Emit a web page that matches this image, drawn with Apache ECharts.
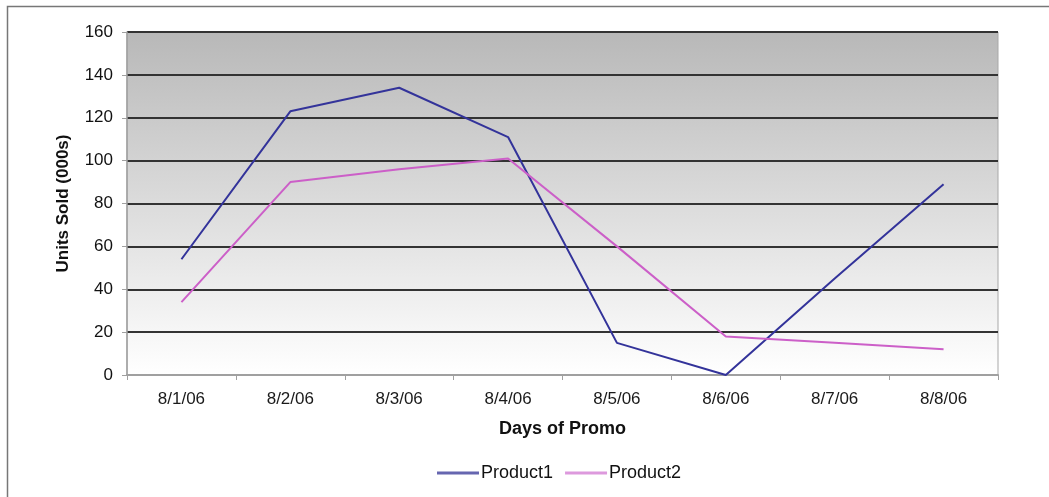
<!DOCTYPE html>
<html>
<head>
<meta charset="utf-8">
<script src="https://cdn.jsdelivr.net/npm/echarts@6/dist/echarts.min.js"></script>
<style>
html,body{margin:0;padding:0;background:#fff;}
#c{width:1049px;height:497px;}
</style>
</head>
<body>
<div id="c"></div>
<script>
var categories = ['8/1/06','8/2/06','8/3/06','8/4/06','8/5/06','8/6/06','8/7/06','8/8/06'];
var product1 = [54, 123, 134, 111, 15, 0, 45, 89];
var product2 = [34, 90, 96, 101, 60, 18, 15, 12];

var chart = echarts.init(document.getElementById('c'));
var font = 'Arial, "Liberation Sans", sans-serif';
chart.setOption({
  animation: false,
  backgroundColor: '#fff',
  graphic: [{
    type: 'rect',
    shape: {x: 7.5, y: 6.5, width: 1200, height: 600},
    style: {fill: 'none', stroke: '#777', lineWidth: 1.5},
    z: -10
  }],
  grid: {
    left: 127, right: 51, top: 32, bottom: 122,
    show: true,
    borderColor: '#a8a8a8',
    borderWidth: 1,
    backgroundColor: {
      type: 'linear', x: 0, y: 0, x2: 0, y2: 1,
      colorStops: [{offset: 0, color: '#b8b8b8'}, {offset: 1, color: '#ffffff'}]
    }
  },
  legend: {
    bottom: 10, left: 432,
    itemWidth: 42, itemHeight: 3, itemGap: 12,
    icon: 'rect',
    textStyle: {fontFamily: font, fontSize: 18, color: '#111', padding: [0,0,0,-3]},
    data: ['Product1', 'Product2']
  },
  xAxis: {
    type: 'category',
    data: categories,
    boundaryGap: true,
    name: 'Days of Promo',
    nameLocation: 'middle',
    nameGap: 45,
    nameTextStyle: {fontFamily: font, fontSize: 18, fontWeight: 'bold', color: '#111'},
    axisLine: {lineStyle: {color: '#a0a0a0', width: 2}},
    axisTick: {show: true, length: 5, lineStyle: {color: '#a0a0a0'}},
    axisLabel: {fontFamily: font, fontSize: 17, color: '#1a1a1a', margin: 16}
  },
  yAxis: {
    type: 'value',
    min: 0, max: 160, interval: 20,
    name: 'Units Sold (000s)',
    nameLocation: 'middle',
    nameGap: 55,
    nameTextStyle: {fontFamily: font, fontSize: 17, fontWeight: 'bold', color: '#111'},
    axisLine: {show: true, lineStyle: {color: '#a0a0a0', width: 1.5}},
    axisTick: {show: true, length: 5, lineStyle: {color: '#a0a0a0'}},
    axisLabel: {fontFamily: font, fontSize: 17, color: '#111', margin: 14},
    splitLine: {show: true, lineStyle: {color: '#333', width: 2}}
  },
  series: [
    {name: 'Product1', type: 'line', data: product1, symbol: 'none',
     lineStyle: {color: '#33339a', width: 2}, itemStyle: {color: '#6666b0'}},
    {name: 'Product2', type: 'line', data: product2, symbol: 'none',
     lineStyle: {color: '#cc5fc8', width: 2}, itemStyle: {color: '#dd99dd'}}
  ]
});
</script>
</body>
</html>
